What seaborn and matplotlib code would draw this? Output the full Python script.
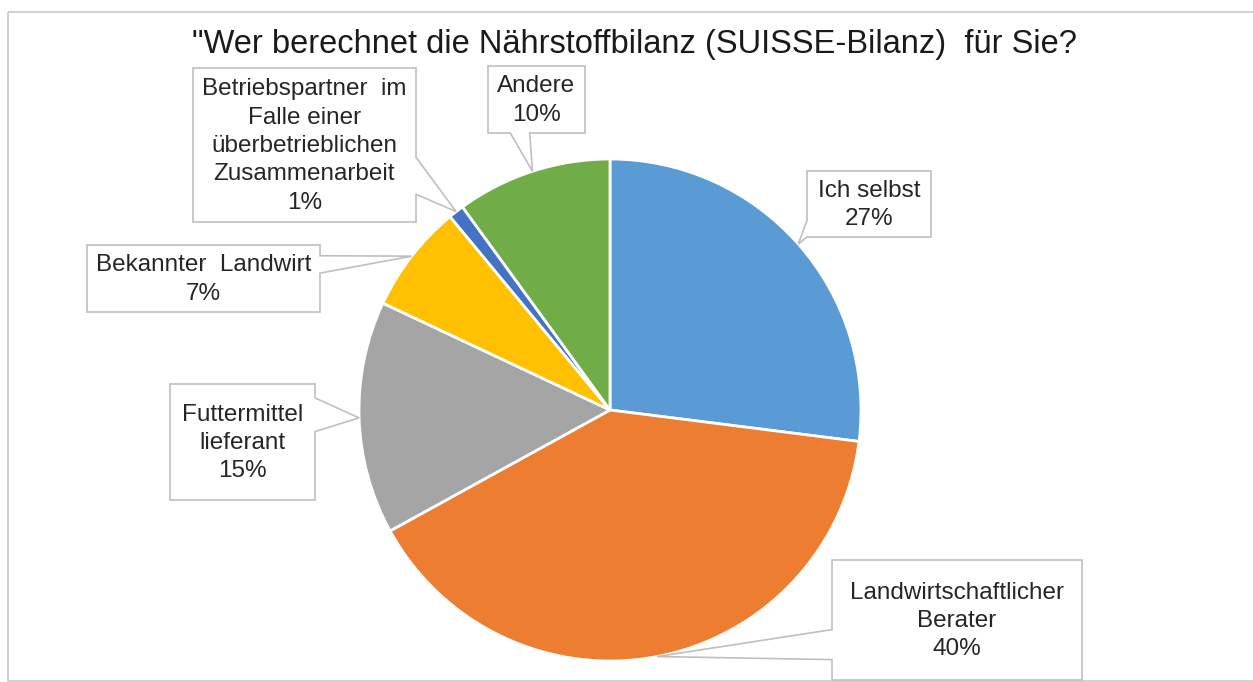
import numpy as np
import matplotlib
matplotlib.use("Agg")
import matplotlib.pyplot as plt
from matplotlib.patches import Polygon, Rectangle
import seaborn as sns

sns.set_theme(style="white")
plt.rcParams['font.family'] = ['Liberation Sans', 'DejaVu Sans']

# Data
categories = ["Ich selbst", "Landwirtschaftlicher\nBerater", "Futtermittel\nlieferant",
              "Bekannter  Landwirt", "Betriebspartner  im\nFalle einer\nüberbetrieblichen\nZusammenarbeit",
              "Andere"]
shares = [27, 40, 15, 7, 1, 10]
colors = ["#5B9BD5", "#ED7D31", "#A5A5A5", "#FFC000", "#4472C4", "#70AD47"]
title = "\"Wer berechnet die Nährstoffbilanz (SUISSE-Bilanz)  für Sie?"

# Layout of the callout boxes in pixels (x0, y0, x1, y1), wedge side and base span
W, H = 1253, 682
callouts = [
    ((807, 171, 931, 237), "left", (0.75, 1.0)),
    ((832, 560, 1082, 680), "left", (0.58, 0.83)),
    ((170, 384, 315, 500), "right", (0.12, 0.41)),
    ((87, 245, 320, 312), "right", (0.16, 0.42)),
    ((193, 68, 416, 222), "right", (0.58, 0.82)),
    ((488, 66, 585, 133), "bottom", (0.23, 0.43)),
]

CX, CY, R = 610, 410, 251

fig = plt.figure(figsize=(W / 100, H / 100), dpi=100)
fig.patch.set_facecolor("white")

ax = fig.add_axes([(CX - R) / W, (H - CY - R) / H, 2 * R / W, 2 * R / H])
wedges, _ = ax.pie(shares, colors=colors, startangle=90, counterclock=False,
                   wedgeprops=dict(edgecolor="white", linewidth=2))
ax.set_xlim(-1, 1)
ax.set_ylim(-1, 1)
ax.axis("off")

ov = fig.add_axes([0, 0, 1, 1], zorder=5)
ov.set_xlim(0, W)
ov.set_ylim(H, 0)
ov.axis("off")

# outer chart frame
ov.add_patch(Rectangle((8, 12), W, H - 13, fill=False, edgecolor="#C8C8C8", lw=1.2))

ov.text(635, 44, title, ha="center", va="center", fontsize=23.5, color="#1a1a1a")


def callout_poly(box, side, span, tip):
    x0, y0, x1, y1 = box
    if side == "left":
        a, b = y0 + span[0] * (y1 - y0), y0 + span[1] * (y1 - y0)
        return [(x0, y0), (x1, y0), (x1, y1), (x0, y1), (x0, b), tip, (x0, a)]
    if side == "right":
        a, b = y0 + span[0] * (y1 - y0), y0 + span[1] * (y1 - y0)
        return [(x0, y0), (x1, y0), (x1, a), tip, (x1, b), (x1, y1), (x0, y1)]
    a, b = x0 + span[0] * (x1 - x0), x0 + span[1] * (x1 - x0)
    return [(x0, y0), (x1, y0), (x1, y1), (b, y1), tip, (a, y1), (x0, y1)]


to_ov = ov.transData.inverted()
for w, cat, val, (box, side, span) in zip(wedges, categories, shares, callouts):
    mid = np.deg2rad((w.theta1 + w.theta2) / 2)
    tip = to_ov.transform(ax.transData.transform((np.cos(mid), np.sin(mid))))
    ov.add_patch(Polygon(callout_poly(box, side, span, tuple(tip)), closed=True,
                         facecolor="white", edgecolor="#BFBFBF", lw=1.2))
    ov.text((box[0] + box[2]) / 2, (box[1] + box[3]) / 2 + 1, f"{cat}\n{val}%",
            ha="center", va="center", multialignment="center",
            fontsize=17.5, linespacing=1.38, color="#262626")

fig.savefig("out.png", dpi=100, facecolor="white")
